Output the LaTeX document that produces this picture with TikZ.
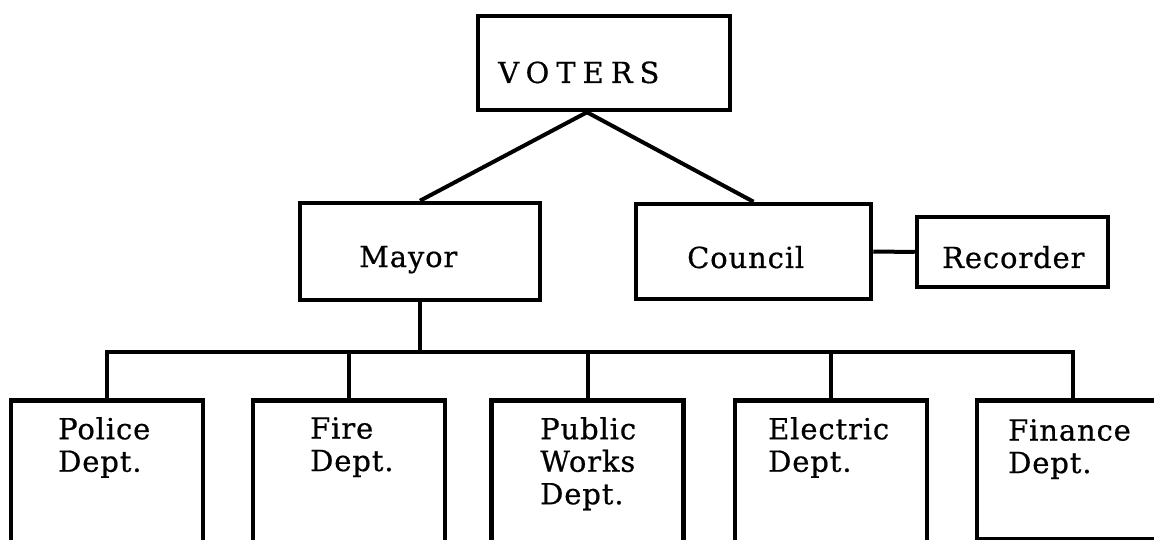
\documentclass[tikz,border=0pt]{standalone}
\usepackage{fontspec}
\setmainfont{DejaVu Serif}[LetterSpace=3,FakeBold=0.6]
\newfontfamily\spacedfont{DejaVu Serif}[LetterSpace=24,FakeBold=0.6]
\usepackage{tikz}
\usetikzlibrary{calc,positioning}

\tikzset{
  orgbox/.style={draw, rectangle, line width=4.5pt, inner sep=0pt},
  deptbox/.style={orgbox, minimum width=192pt, minimum height=175pt, anchor=north},
  boxtext/.style={font=\fontsize{29pt}{32.5pt}\selectfont, inner sep=0pt},
  depttext/.style={boxtext, align=left, anchor=north west},
  link/.style={line width=4pt}
}

\begin{document}
\begin{tikzpicture}[x=1pt,y=-1pt]
  \useasboundingbox (0,0) rectangle (1154,540);
  \clip (0,0) rectangle (1154,540);
  % voters, mayor and council
  \node[orgbox, minimum width=252pt, minimum height=94pt] (voters) at (604,63) {};
  \node[boxtext, anchor=base west] (voters-text) at (498,83) {\spacedfont VOTERS};
  \node[orgbox, minimum width=240pt, minimum height=97pt] (mayor) at (420,251.5) {};
  \node[boxtext, anchor=base west] (mayor-text) at (359,267) {Mayor};
  \node[orgbox, minimum width=235pt, minimum height=95pt] (council) at (753.5,251.5) {};
  \node[boxtext, anchor=base west] (council-text) at (687,268) {Council};
  \node[orgbox, minimum width=191pt, minimum height=70pt] (recorder) at (1012.5,252) {};
  \node[boxtext, anchor=base west] (recorder-text) at (942,268) {Recorder};
  % departments (run off the bottom edge)
  \node[deptbox] (police) at (107,398) {};
  \node[depttext] (police-text) at (58,417) {Police\\Dept.};
  \node[deptbox] (fire) at (349,398) {};
  \node[depttext] (fire-text) at (310,417) {Fire\\Dept.};
  \node[deptbox] (public) at (587.5,398) {};
  \node[depttext] (public-text) at (540,417) {Public\\Works\\Dept.};
  \node[deptbox] (electric) at (831,398) {};
  \node[depttext] (electric-text) at (768,417) {Electric\\Dept.};
  \node[deptbox, minimum height=139pt] (finance) at (1073,398) {};
  \node[depttext] (finance-text) at (1008,419) {Finance\\Dept.};
  % connectors
  \coordinate (apex) at ($(voters.south)+(-17,0)$);
  \draw[link] (mayor.north) -- (apex) -- (council.north);
  \draw[link] (council.east) -- (recorder.west);
  \coordinate (bus) at ($(mayor.south)+(0,50)$);
  \draw[link] (mayor.south) -- (bus);
  \draw[link] (police.north) |- (bus) -| (finance.north);
  \foreach \d in {fire,public,electric}
    \draw[link] (\d.north) -- (\d.north |- bus);
\end{tikzpicture}
\end{document}
